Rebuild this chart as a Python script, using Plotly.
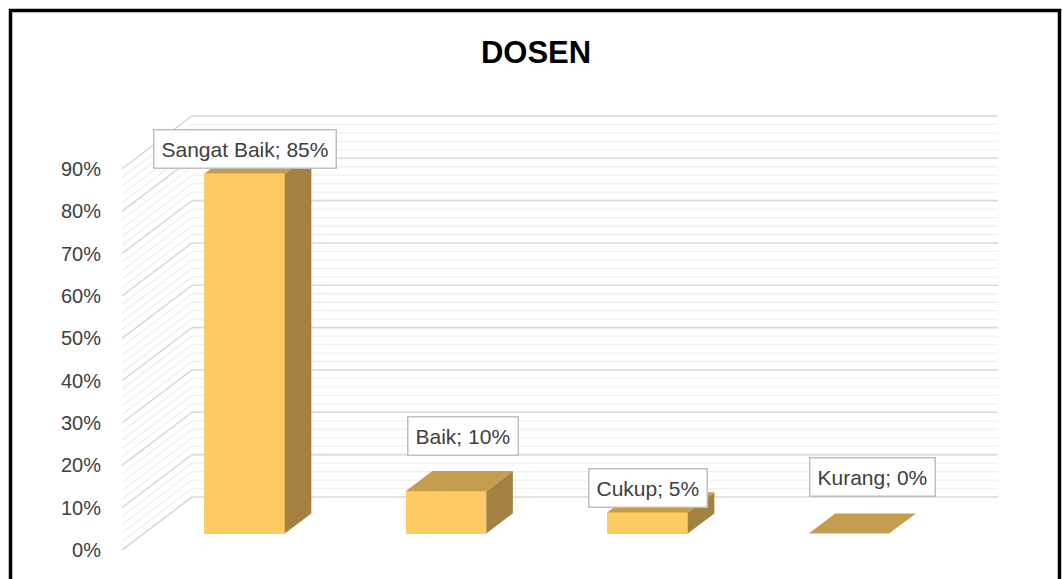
import plotly.graph_objects as go

# ---- data ----
categories = ["Sangat Baik", "Baik", "Cukup", "Kurang"]
values = [85, 10, 5, 0]
tick_values = [0, 10, 20, 30, 40, 50, 60, 70, 80, 90]
tick_labels = [f"{v}%" for v in tick_values]
title_text = "DOSEN"

# ---- layout geometry (screen pixels) ----
W, H = 1062, 579
L, R, T, B = 122, 1000, 110, 556          # plot area
PX_PER_CAT = 201.5
PX_PER_PCT = 4.234
Y0_PX = 550                                 # pixel of 0% on front plane

x_range = [(L - 122) / PX_PER_CAT - 0.5, (R - 122) / PX_PER_CAT - 0.5]
y_range = [(Y0_PX - B) / PX_PER_PCT, (Y0_PX - T) / PX_PER_PCT]

DX = 70 / PX_PER_CAT
DY = 53 / PX_PER_PCT
D0, D1 = 0.31, 0.69
HALF_W = 0.2

FRONT = "#FDCA64"
SIDE = "#A58141"
TOP = "#C49D4E"
TEXT = "#404040"
FONT = "Liberation Sans"

fig = go.Figure()

shapes = []
x_left = -0.5
x_back_right = len(categories) - 0.5 + DX
for v in range(0, tick_values[-1] + 1, 2):
    major = v % 10 == 0
    col = "#D9D9D9" if major else "#EFEFEF"
    wid = 1.6 if major else 1.3
    shapes.append(dict(type="line", xref="x", yref="y", layer="below",
                       x0=x_left, y0=v, x1=x_left + DX, y1=v + DY,
                       line=dict(color=col, width=wid)))
    shapes.append(dict(type="line", xref="x", yref="y", layer="below",
                       x0=x_left + DX, y0=v + DY, x1=x_back_right, y1=v + DY,
                       line=dict(color=col, width=wid)))

xs = [i + D0 * DX for i in range(len(categories))]
fig.add_trace(go.Bar(x=xs, y=values, base=[D0 * DY] * len(values),
                     width=2 * HALF_W, marker=dict(color=FRONT, line=dict(width=0)),
                     hoverinfo="skip", showlegend=False))

side_x, side_y, top_x, top_y = [], [], [], []
for i, v in enumerate(values):
    xr0 = i + HALF_W + D0 * DX
    xr1 = i + HALF_W + D1 * DX
    xl0 = i - HALF_W + D0 * DX
    xl1 = i - HALF_W + D1 * DX
    yb0, yb1 = D0 * DY, D1 * DY
    if v > 0:
        side_x += [xr0, xr1, xr1, xr0, xr0, None]
        side_y += [yb0, yb1, v + yb1, v + yb0, yb0, None]
    top_x += [xl0, xr0, xr1, xl1, xl0, None]
    top_y += [v + yb0, v + yb0, v + yb1, v + yb1, v + yb0, None]

fig.add_trace(go.Scatter(x=side_x, y=side_y, mode="lines", fill="toself",
                         fillcolor=SIDE, line=dict(width=0, color=SIDE),
                         hoverinfo="skip", showlegend=False))
fig.add_trace(go.Scatter(x=top_x, y=top_y, mode="lines", fill="toself",
                         fillcolor=TOP, line=dict(width=0, color=TOP),
                         hoverinfo="skip", showlegend=False))

LABEL_SHIFTS = [(21.75, 41.6), (38.25, 71.2), (21.75, 40.8), (45.25, 73.5)]
annotations = []
for i, (c, v) in enumerate(zip(categories, values)):
    sx, sy = LABEL_SHIFTS[i]
    annotations.append(dict(x=i, y=v, xref="x", yref="y", text=f"{c}; {v}%",
                            showarrow=False, xanchor="center", yanchor="middle",
                            xshift=sx, yshift=sy,
                            font=dict(family=FONT, size=21, color=TEXT),
                            bgcolor="white", bordercolor="#BFBFBF",
                            borderwidth=1.5, borderpad=7))

def px_to_paper_x(px):
    return (px - L) / (R - L)

def px_to_paper_y(py):
    return (B - py) / (B - T)

shapes.append(dict(type="rect", xref="paper", yref="paper", layer="above",
                   x0=px_to_paper_x(10.5), x1=px_to_paper_x(1059.5),
                   y0=px_to_paper_y(620), y1=px_to_paper_y(10.5),
                   line=dict(color="black", width=3.5), fillcolor="rgba(0,0,0,0)"))

fig.update_layout(
    width=W, height=H,
    margin=dict(l=L, r=W - R, t=T, b=H - B, autoexpand=False),
    paper_bgcolor="white", plot_bgcolor="white",
    title=dict(text=f"<b>{title_text}</b>", x=536 / W, xanchor="center",
               y=1 - 52 / H, yanchor="middle", xref="container", yref="container",
               font=dict(family=FONT, size=31, color="black")),
    xaxis=dict(range=x_range, visible=False, fixedrange=True),
    yaxis=dict(range=y_range, tickvals=tick_values, ticktext=tick_labels,
               showgrid=False, zeroline=False, showline=False, ticks="",
               ticklabelstandoff=20,
               tickfont=dict(family=FONT, size=20, color=TEXT), fixedrange=True),
    shapes=shapes, annotations=annotations, showlegend=False, bargap=0,
)

fig.write_html(
    "out.html",
    config={"displayModeBar": False},
    post_script="document.body.style.margin='0';document.body.style.overflow='hidden';"
                "document.documentElement.style.overflow='hidden';",
)
